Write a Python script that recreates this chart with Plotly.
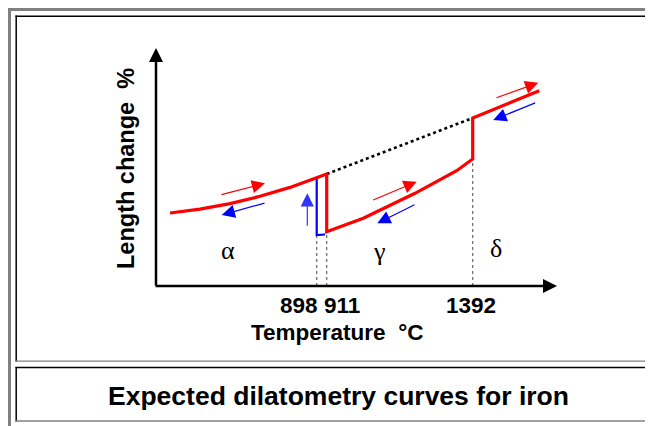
import plotly.graph_objects as go

# page body has an 8px margin: figure is placed at (8, 8) in the window
OFF = 8
W, H = 653 - OFF, 426 - OFF
# schematic coordinates: x along temperature axis, y = length change (arbitrary units)
OX, OY = 156 - OFF, 286 - OFF  # axis origin location inside the figure (px)

# heating curve (red): alpha -> jump at 911 -> gamma -> jump at 1392 -> delta
heat_x = [14, 44, 74, 104, 134, 154, 170.7, 170.7, 207.3, 259, 300.7, 316.7, 316.7, 383.3]
heat_y = [73, 76.9, 82.4, 89.7, 98.6, 105.5, 112, 54.3, 67.7, 92.7, 115.3, 127, 168, 195.3]
# cooling curve (blue): gamma -> alpha transition at 898
cool_x = [154, 160.7, 160.7, 169]
cool_y = [105.5, 108, 51, 51.5]
# extrapolated alpha/delta expansion line (dotted)
extra_x = [170.7, 316.7]
extra_y = [112, 168]
# transformation temperatures and their schematic positions
temps = ["898", "911", "1392"]
temp_pos = [160.7, 170.7, 316.7]
temp_top = [51, 54.3, 127]
temp_label_x = [143, 186, 315]
# phase labels
phases = ["α", "γ", "δ"]
phase_x = [72.3, 223.3, 340]
phase_y = [36, 34.3, 37.7]
# direction arrows: (tail_x, tail_y, head_x, head_y, colour)
arrows = [
    (64, 91, 109, 102.7, "#ff0000"),
    (110, 83.3, 65.7, 71, "#0000ff"),
    (151.3, 58.7, 151.3, 92.7, "#3333ff"),
    (215.7, 85.3, 260.7, 104.3, "#ff0000"),
    (260, 82, 221.3, 62.7, "#0000ff"),
    (339, 187.7, 382.3, 203.3, "#ff0000"),
    (380.7, 183.7, 337.3, 166, "#0000ff"),
]
x_axis_end = 401
y_axis_end = 238

fig = go.Figure()

# dotted guide lines down to temperature axis
for xp, yt in zip(temp_pos, temp_top):
    fig.add_trace(go.Scatter(x=[xp, xp], y=[0, yt], mode="lines",
                             line=dict(color="#666666", width=1.2, dash="dot"),
                             hoverinfo="skip", showlegend=False))

fig.add_trace(go.Scatter(x=extra_x, y=extra_y, mode="lines",
                         line=dict(color="black", width=2.6, dash="dot"),
                         hoverinfo="skip", showlegend=False))
fig.add_trace(go.Scatter(x=cool_x, y=cool_y, mode="lines",
                         line=dict(color="#0000ff", width=2.2),
                         hoverinfo="skip", showlegend=False))
fig.add_trace(go.Scatter(x=heat_x, y=heat_y, mode="lines",
                         line=dict(color="#ff0000", width=3.2),
                         hoverinfo="skip", showlegend=False))

SANS = "Liberation Sans, Arial"
ann = []
# axes with arrowheads
ann.append(dict(x=x_axis_end, y=0, ax=-2, ay=0, xref="x", yref="y", axref="x", ayref="y",
                text="", showarrow=True, arrowhead=2, arrowsize=1.12, arrowwidth=2.5,
                arrowcolor="black"))
ann.append(dict(x=0, y=y_axis_end, ax=0, ay=-1, xref="x", yref="y", axref="x", ayref="y",
                text="", showarrow=True, arrowhead=2, arrowsize=1.12, arrowwidth=2.5,
                arrowcolor="black"))
for tx, ty, hx, hy, c in arrows:
    ann.append(dict(x=hx, y=hy, ax=tx, ay=ty, xref="x", yref="y", axref="x", ayref="y",
                    text="", showarrow=True, arrowhead=2, arrowsize=2.2, arrowwidth=1.2,
                    arrowcolor=c))
for t, x in zip(temps, temp_label_x):
    ann.append(dict(x=x, y=-19, xref="x", yref="y", text="<b>" + t + "</b>", showarrow=False,
                    font=dict(family=SANS, size=22.5, color="black"),
                    xanchor="center", yanchor="middle"))
for t, x, y in zip(phases, phase_x, phase_y):
    ann.append(dict(x=x, y=y, xref="x", yref="y", text=t, showarrow=False,
                    font=dict(family="Liberation Serif, Times New Roman", size=26, color="black"),
                    xanchor="center", yanchor="middle"))
ann.append(dict(x=181, y=-46, xref="x", yref="y", text="<b>Temperature\u00a0 °C</b>",
                showarrow=False, font=dict(family=SANS, size=22.5, color="black"),
                xanchor="center", yanchor="middle"))
ann.append(dict(x=-30, y=117, xref="x", yref="y", text="<b>Length change\u00a0 %</b>",
                showarrow=False, textangle=-90,
                font=dict(family=SANS, size=23.5, color="black"),
                xanchor="center", yanchor="middle"))
ann.append(dict(x=(338 - OFF) / W, y=1 - (396 - OFF) / H, xref="paper", yref="paper",
                text="<b>Expected dilatometry curves for iron</b>", showarrow=False,
                font=dict(family=SANS, size=26.5, color="black"),
                xanchor="center", yanchor="middle"))


def px(x):
    return (x - OFF) / W


def py(y):
    return 1 - (y - OFF) / H


def hline(x0, x1, y, color, width):
    return dict(type="line", xref="paper", yref="paper", x0=px(x0), x1=px(x1),
                y0=py(y), y1=py(y), line=dict(color=color, width=width))


def vline(x, y0, y1, color, width):
    return dict(type="line", xref="paper", yref="paper", x0=px(x), x1=px(x),
                y0=py(y0), y1=py(y1), line=dict(color=color, width=width))


shapes = [
    hline(8, 660, 9.5, "#808080", 3),
    vline(9.5, 8, 430, "#808080", 3),
    hline(15.5, 660, 16.2, "black", 1.5),
    vline(16.2, 15.5, 361.5, "black", 1.5),
    hline(15.5, 660, 361.2, "#808080", 1.3),
    hline(15.5, 660, 367.6, "black", 1.5),
    vline(16.2, 367, 421.5, "black", 1.5),
    hline(15.5, 660, 421.0, "#808080", 1.3),
]

fig.update_layout(
    width=W, height=H,
    margin=dict(l=0, r=0, t=0, b=0),
    paper_bgcolor="white", plot_bgcolor="white",
    xaxis=dict(range=[-OX, W - OX], visible=False, fixedrange=True),
    yaxis=dict(range=[OY - H, OY], visible=False, fixedrange=True),
    annotations=ann, shapes=shapes, showlegend=False,
)
fig.write_html("out.html")
